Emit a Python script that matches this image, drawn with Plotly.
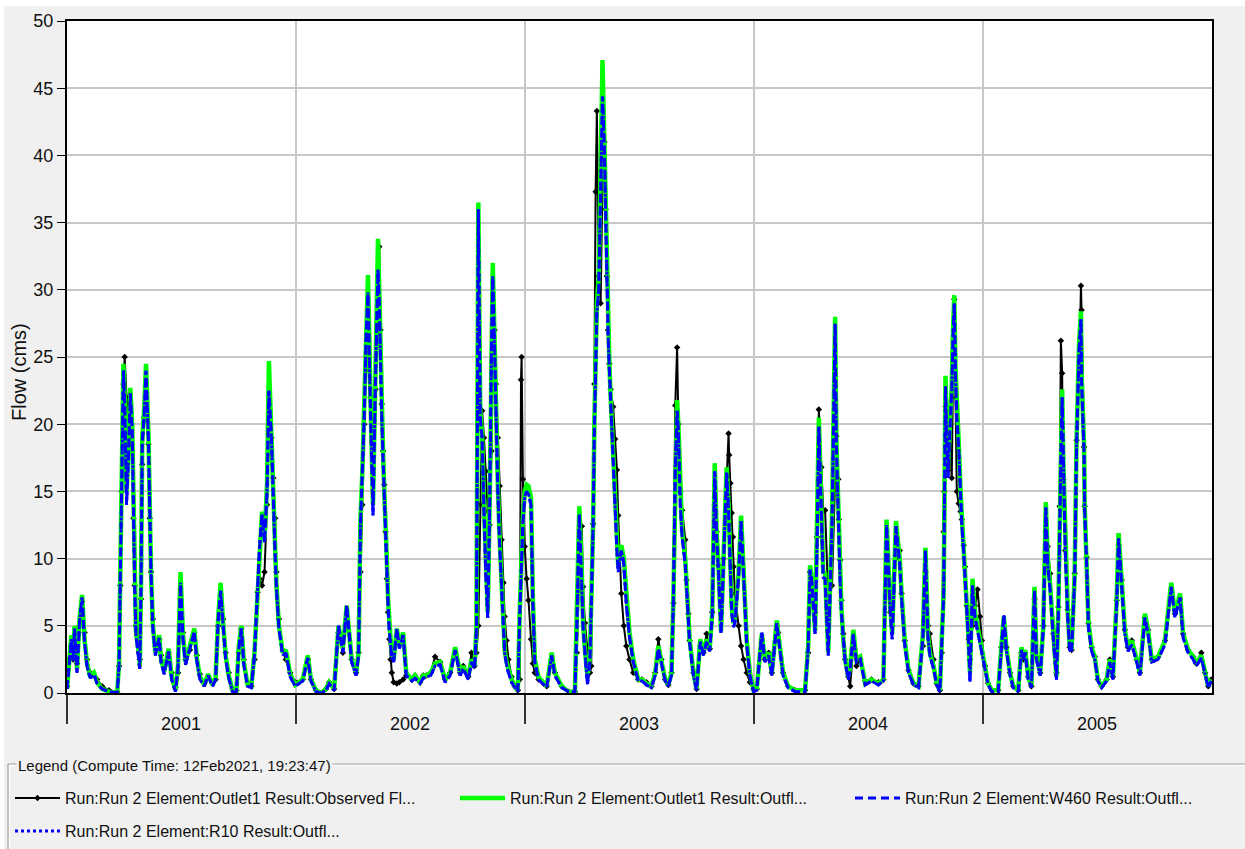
import pandas as pd
import plotly.graph_objects as go

# Daily outflow record, Run 2 (HEC-HMS), 01Jan2001 - 31Dec2005.
# Days are counted from 01Jan2001; flows in cms.
day_offsets = [
    # 2001
    0, 4, 7, 10, 12, 16, 20, 24, 28, 32, 37, 43, 48, 56, 67, 80, 83, 85, 87, 90,
    92, 95, 98, 101, 104, 106, 108, 110, 115, 116, 118, 120, 123, 126, 130, 132, 134, 137, 141, 147,
    150, 155, 162, 167, 173, 177, 181, 185, 189, 196, 203, 207, 212, 219, 225, 232, 237, 241, 245, 249,
    253, 258, 264, 270, 274, 278, 282, 288, 294, 299, 304, 307, 311, 315, 319, 322, 326, 329, 332, 334,
    338, 344, 349, 356, 364,
    # 2002
    376, 384, 389, 397, 405, 413, 418, 426, 433, 440, 446, 454, 461, 465, 468, 471, 474, 477, 480, 484,
    488, 492, 496, 498, 500, 502, 504, 506, 508, 510, 512, 514, 516, 518, 521, 526, 530, 536, 541, 550,
    555, 563, 568, 573, 580, 587, 595, 603, 611, 619, 627, 632, 640, 645, 650, 653, 656, 659, 662, 665,
    668, 671, 674, 677, 679, 682, 684, 687, 690, 693, 696, 698, 701, 704, 709, 714, 719, 722, 724, 725,
    727,
    # 2003
    730, 733, 736, 740, 743, 746, 752, 760, 765, 773, 778, 789, 800, 810, 813, 817, 821, 823, 826, 830,
    834, 836, 839, 841, 843, 845, 848, 851, 854, 857, 859, 861, 863, 865, 867, 871, 874, 877, 879, 882,
    884, 888, 892, 897, 903, 906, 911, 917, 924, 932, 938, 943, 948, 954, 959, 964, 967, 970, 973, 975,
    978, 981, 986, 988, 991, 993, 999, 1004, 1010, 1015, 1020, 1025, 1029, 1033, 1036, 1039, 1043, 1047, 1052, 1055,
    1056, 1058, 1060, 1062, 1063, 1065, 1071, 1075, 1079, 1084, 1089,
    # 2004
    1095, 1100, 1108, 1113, 1119, 1124, 1132, 1134, 1142, 1150, 1161, 1177, 1182, 1185, 1188, 1193, 1196, 1199, 1203, 1206,
    1209, 1214, 1220, 1225, 1227, 1230, 1231, 1233, 1235, 1238, 1241, 1246, 1249, 1254, 1259, 1265, 1273, 1283, 1294, 1302,
    1307, 1313, 1316, 1322, 1328, 1331, 1336, 1342, 1350, 1358, 1365, 1369, 1373, 1376, 1382, 1387, 1392, 1395, 1398, 1399,
    1401, 1403, 1405, 1408, 1411, 1413, 1415, 1417, 1419, 1422, 1425, 1427, 1430, 1432, 1435, 1438, 1440, 1444, 1448, 1452,
    1456, 1459,
    # 2005
    1464, 1469, 1475, 1485, 1490, 1494, 1498, 1504, 1509, 1517, 1522, 1525, 1528, 1533, 1538, 1543, 1546, 1552, 1557, 1561,
    1564, 1568, 1573, 1578, 1581, 1583, 1585, 1587, 1589, 1592, 1596, 1599, 1602, 1607, 1610, 1614, 1617, 1618, 1622, 1623,
    1626, 1629, 1634, 1639, 1644, 1650, 1658, 1663, 1668, 1674, 1677, 1682, 1687, 1692, 1698, 1706, 1711, 1719, 1724, 1730,
    1740, 1751, 1761, 1767, 1775, 1780, 1788, 1796, 1801, 1809, 1815, 1820, 1825,
]

observed_flow = [
    # 2001
    0.5, 2.5, 3.5, 2.5, 4.0, 2.2, 5.0, 6.8, 4.5, 2.5, 1.5, 1.3, 1.0, 0.5, 0.2, 0.1, 2.0, 8.0, 15.0, 23.0,
    25.0, 22.0, 20.5, 21.5, 18.0, 13.0, 8.0, 5.0, 3.0, 2.5, 7.0, 17.0, 20.5, 22.0, 18.5, 13.0, 9.0, 5.5, 3.5, 4.0,
    2.8, 2.0, 3.0, 1.5, 0.4, 1.5, 7.0, 4.5, 2.5, 3.2, 4.5, 2.8, 1.4, 0.7, 1.2, 0.8, 1.0, 5.0, 7.3, 5.5,
    3.0, 1.5, 0.3, 0.2, 3.0, 4.8, 2.5, 0.8, 0.5, 2.5, 7.5, 8.5, 8.0, 9.0, 14.0, 19.8, 19.0, 16.0, 13.0, 9.0,
    5.5, 3.2, 2.5, 1.5, 0.8,
    # 2002
    1.0, 2.5, 1.0, 0.2, 0.0, 0.3, 0.8, 0.3, 4.5, 3.0, 5.5, 2.5, 1.5, 3.0, 9.0, 14.0, 20.0, 24.0, 25.0, 22.0,
    18.5, 22.6, 29.0, 33.2, 27.0, 21.5, 18.0, 15.5, 12.0, 8.5, 6.0, 4.0, 2.5, 1.5, 0.8, 0.7, 0.8, 1.0, 1.3, 1.0,
    1.3, 0.8, 1.3, 1.3, 1.5, 2.7, 2.3, 1.0, 1.5, 3.0, 1.5, 2.0, 1.2, 3.0, 2.0, 3.0, 5.0, 14.0, 21.0, 19.0,
    16.5, 13.5, 12.5, 18.0, 24.0, 27.0, 23.0, 19.0, 15.4, 11.4, 8.2, 5.7, 3.9, 2.5, 1.2, 0.5, 0.2, 1.0, 23.3, 25.0,
    15.9,
    # 2003
    10.9, 8.5, 6.9, 4.0, 2.2, 1.5, 1.0, 0.7, 0.5, 2.5, 1.5, 0.5, 0.1, 0.1, 3.0, 9.0, 12.4, 7.9, 5.2, 3.2,
    1.5, 2.0, 12.6, 23.0, 37.3, 43.3, 31.0, 29.0, 38.0, 41.0, 36.0, 31.0, 27.0, 24.5, 22.6, 21.3, 18.9, 16.6, 13.2, 10.2,
    7.4, 5.0, 3.5, 2.5, 1.5, 1.5, 1.0, 1.0, 0.8, 0.5, 1.5, 4.0, 2.5, 1.0, 0.6, 1.5, 6.7, 21.4, 25.7, 20.0,
    15.0, 13.6, 11.4, 8.4, 5.9, 3.9, 1.5, 0.3, 3.5, 3.0, 4.4, 3.3, 6.0, 14.0, 12.0, 9.5, 6.0, 10.0, 16.0, 19.3,
    17.7, 15.6, 13.4, 11.6, 9.4, 7.4, 5.0, 3.5, 2.5, 1.5, 0.8,
    # 2004
    0.3, 0.3, 4.0, 2.5, 3.0, 1.5, 5.0, 4.5, 1.5, 0.5, 0.2, 0.2, 3.0, 9.0, 8.0, 6.0, 11.6, 21.1, 16.8, 13.6,
    13.6, 7.0, 8.0, 17.0, 19.1, 15.9, 12.9, 9.9, 6.9, 4.4, 2.5, 1.2, 0.5, 3.5, 2.0, 2.5, 0.9, 1.0, 0.8, 1.0,
    10.0, 6.0, 5.0, 10.0, 10.6, 7.4, 3.9, 1.7, 0.7, 0.5, 3.5, 9.0, 5.0, 4.4, 2.5, 0.7, 0.2, 3.0, 12.0, 15.0,
    21.3, 18.3, 16.6, 18.4, 16.0, 24.0, 29.3, 22.0, 15.0, 14.1, 13.5, 12.9, 11.0, 9.4, 6.5, 4.0, 2.5, 5.0, 6.5, 7.7,
    5.7, 3.9,
    # 2005
    2.0, 0.7, 0.2, 0.2, 3.4, 4.5, 3.4, 1.5, 0.5, 0.2, 3.0, 2.5, 3.0, 1.2, 0.5, 7.0, 2.7, 1.5, 5.0, 12.0,
    10.9, 8.9, 4.4, 1.5, 6.4, 13.9, 26.2, 23.8, 15.9, 10.6, 6.2, 3.4, 3.2, 8.9, 18.8, 23.6, 30.3, 28.5, 18.3, 13.9,
    10.1, 5.2, 3.4, 2.7, 1.0, 0.5, 1.0, 2.5, 1.2, 6.9, 11.0, 8.4, 4.7, 3.4, 3.9, 2.5, 1.5, 5.6, 4.7, 2.5,
    2.7, 3.9, 7.5, 5.9, 7.0, 4.4, 3.2, 2.7, 2.2, 3.0, 1.5, 0.5, 1.0,
]

outlet1_flow = [
    # 2001
    0.3, 2.8, 4.3, 2.6, 5.0, 1.8, 5.5, 7.3, 4.0, 2.2, 1.2, 1.5, 0.8, 0.3, 0.1, 0.0, 2.2, 9.0, 15.5, 24.5,
    22.0, 15.0, 18.0, 22.7, 20.0, 13.0, 8.0, 4.5, 2.8, 2.0, 8.0, 19.0, 21.0, 24.5, 19.0, 13.0, 9.0, 5.0, 3.0, 4.3,
    2.5, 1.6, 3.3, 1.2, 0.2, 2.0, 9.0, 4.3, 2.3, 3.5, 4.8, 2.6, 1.2, 0.6, 1.4, 0.6, 1.1, 5.5, 8.2, 5.2,
    2.8, 1.3, 0.2, 0.0, 3.5, 5.0, 2.3, 0.6, 0.5, 3.0, 8.0, 11.0, 13.5, 11.5, 15.5, 24.7, 19.5, 14.0, 10.5, 8.0,
    5.0, 3.0, 3.2, 1.4, 0.6,
    # 2002
    1.0, 2.8, 1.0, 0.2, 0.0, 0.3, 0.8, 0.3, 5.0, 3.3, 6.5, 2.5, 1.5, 3.0, 12.9, 16.5, 21.0, 27.0, 31.1, 22.0,
    14.0, 24.0, 33.8, 30.0, 25.0, 21.0, 18.0, 15.0, 13.0, 10.0, 7.0, 5.0, 4.0, 3.0, 2.5, 4.8, 3.5, 4.5, 1.5, 1.0,
    1.3, 0.8, 1.3, 1.3, 1.5, 2.2, 2.3, 1.0, 1.5, 3.4, 1.5, 2.0, 1.2, 2.5, 2.0, 5.0, 36.5, 21.0, 19.3, 14.0,
    9.0, 6.0, 14.0, 27.0, 32.0, 26.0, 21.3, 15.6, 11.4, 7.9, 4.9, 3.2, 2.3, 1.7, 1.0, 0.5, 0.2, 6.0, 9.0, 10.5,
    13.0,
    # 2003
    15.0, 15.5, 15.4, 14.5, 7.0, 2.5, 1.2, 0.7, 0.5, 3.0, 1.5, 0.5, 0.1, 0.1, 5.0, 13.9, 8.9, 5.2, 3.2, 1.2,
    2.7, 6.0, 12.6, 20.0, 26.0, 29.0, 31.0, 38.0, 47.1, 41.0, 36.0, 31.0, 27.0, 24.5, 22.0, 18.0, 14.5, 11.0, 9.5, 10.5,
    11.0, 10.0, 7.0, 4.5, 2.5, 2.0, 1.0, 1.0, 0.7, 0.5, 1.5, 3.5, 2.5, 1.0, 0.6, 1.5, 7.0, 17.0, 21.8, 20.0,
    14.4, 12.0, 10.0, 8.0, 6.0, 4.0, 1.5, 0.3, 4.0, 3.0, 4.0, 3.3, 6.0, 17.1, 12.0, 9.5, 4.6, 10.0, 16.8, 14.0,
    12.0, 9.0, 6.4, 5.5, 5.2, 5.5, 8.9, 13.2, 8.9, 3.9, 1.5,
    # 2004
    0.2, 0.3, 4.4, 2.5, 3.0, 1.5, 5.4, 4.5, 1.5, 0.5, 0.2, 0.2, 3.5, 9.5, 8.5, 4.6, 11.0, 20.5, 14.0, 9.0,
    8.9, 3.0, 13.0, 28.0, 18.8, 13.5, 11.4, 8.5, 6.4, 4.0, 2.5, 1.2, 2.0, 4.7, 2.5, 2.7, 0.7, 1.0, 0.7, 1.0,
    12.9, 6.4, 4.4, 12.8, 10.0, 7.4, 3.9, 1.7, 0.7, 0.5, 4.4, 10.8, 4.4, 3.0, 2.0, 0.7, 0.2, 3.9, 7.4, 12.4,
    23.6, 19.0, 16.6, 20.0, 23.0, 27.0, 29.6, 24.0, 21.0, 18.8, 15.0, 12.9, 10.9, 9.4, 6.4, 3.9, 1.5, 8.5, 6.0, 5.0,
    4.0, 3.0,
    # 2005
    2.0, 0.7, 0.2, 0.2, 3.4, 5.7, 3.4, 1.5, 0.5, 0.2, 3.4, 2.7, 3.2, 1.2, 0.5, 7.9, 2.7, 1.5, 5.0, 14.2,
    10.0, 8.0, 4.4, 1.2, 6.4, 13.9, 18.0, 22.6, 17.0, 11.0, 6.0, 3.5, 3.2, 8.9, 18.8, 26.0, 28.4, 23.8, 18.3, 13.9,
    10.1, 5.2, 3.4, 2.7, 1.0, 0.5, 1.0, 2.5, 1.2, 6.9, 11.9, 8.4, 4.7, 3.4, 3.9, 2.5, 1.5, 5.9, 4.7, 2.5,
    2.7, 3.9, 8.2, 5.9, 7.4, 4.4, 3.2, 2.7, 2.2, 2.8, 1.5, 0.5, 1.0,
]

w460_flow = [
    # 2001
    0.3, 2.8, 4.0, 2.4, 4.8, 1.5, 5.3, 7.1, 3.8, 2.0, 1.1, 1.4, 0.7, 0.3, 0.1, 0.0, 2.0, 8.6, 15.0, 24.0,
    21.5, 14.0, 17.5, 22.3, 19.5, 12.8, 7.8, 4.3, 2.5, 1.8, 7.8, 18.6, 20.6, 24.0, 18.6, 12.8, 8.8, 4.8, 2.8, 4.1,
    2.3, 1.4, 3.1, 1.0, 0.1, 1.9, 8.2, 4.0, 2.1, 3.3, 4.6, 2.4, 1.0, 0.5, 1.3, 0.5, 1.0, 5.3, 7.6, 5.0,
    2.6, 1.1, 0.1, 0.0, 3.3, 4.8, 2.1, 0.5, 0.4, 2.8, 7.8, 10.8, 13.3, 11.2, 15.0, 22.5, 19.0, 13.6, 10.2, 7.8,
    4.8, 2.8, 3.0, 1.2, 0.5,
    # 2002
    0.9, 2.6, 0.9, 0.1, 0.0, 0.2, 0.7, 0.2, 5.0, 3.0, 6.5, 2.3, 1.3, 2.8, 12.5, 16.0, 20.5, 26.5, 29.8, 21.0,
    13.2, 23.5, 31.5, 29.0, 24.0, 20.5, 17.5, 14.5, 12.4, 9.6, 6.6, 4.6, 3.6, 2.6, 2.3, 4.8, 3.3, 4.3, 1.3, 0.9,
    1.1, 0.7, 1.1, 1.2, 1.3, 2.0, 2.1, 0.8, 1.3, 3.2, 1.3, 1.8, 1.0, 2.3, 1.8, 4.8, 36.0, 20.5, 19.0, 13.6,
    8.6, 5.6, 13.5, 26.0, 31.0, 25.5, 21.0, 15.2, 11.0, 7.5, 4.6, 3.0, 2.1, 1.5, 0.8, 0.4, 0.1, 5.8, 8.8, 10.2,
    12.6,
    # 2003
    14.6, 15.0, 14.8, 14.0, 6.6, 2.3, 1.0, 0.6, 0.4, 2.8, 1.3, 0.4, 0.1, 0.1, 4.8, 13.3, 8.6, 5.0, 3.0, 0.6,
    2.5, 5.8, 12.4, 19.5, 25.5, 28.3, 30.0, 37.0, 44.4, 40.5, 35.5, 30.5, 26.5, 24.0, 21.5, 17.5, 14.0, 10.6, 9.0, 10.0,
    10.6, 9.6, 6.6, 4.2, 2.3, 1.8, 0.9, 0.9, 0.6, 0.4, 1.3, 3.3, 2.3, 0.9, 0.5, 1.3, 6.8, 16.5, 21.0, 19.5,
    14.0, 11.6, 9.6, 7.6, 5.6, 3.7, 1.3, 0.2, 3.8, 2.8, 3.8, 3.1, 5.8, 16.5, 11.6, 9.0, 4.4, 9.6, 16.4, 13.6,
    11.6, 8.6, 6.0, 5.2, 4.9, 5.2, 8.6, 12.8, 8.6, 3.6, 1.3,
    # 2004
    0.1, 0.2, 4.5, 2.3, 2.8, 1.3, 5.2, 4.3, 1.3, 0.4, 0.1, 0.1, 3.3, 9.2, 8.2, 4.4, 10.6, 19.8, 13.6, 8.6,
    8.5, 2.8, 12.6, 27.5, 18.4, 13.0, 11.0, 8.2, 6.0, 3.7, 2.3, 1.0, 1.8, 4.4, 2.3, 2.5, 0.6, 0.9, 0.6, 0.9,
    12.5, 6.0, 4.0, 12.4, 9.6, 7.0, 3.6, 1.5, 0.6, 0.4, 4.2, 10.6, 4.2, 2.8, 1.8, 0.6, 0.1, 3.7, 7.2, 12.0,
    22.8, 18.5, 16.0, 19.5, 22.5, 26.5, 29.0, 23.5, 20.5, 18.3, 14.5, 12.5, 10.5, 9.0, 6.0, 3.6, 0.8, 8.0, 5.6, 4.6,
    3.7, 2.8,
    # 2005
    1.8, 0.6, 0.1, 0.1, 3.2, 5.8, 3.2, 1.3, 0.4, 0.1, 3.2, 2.5, 3.0, 1.0, 0.4, 7.6, 2.5, 1.3, 4.8, 13.8,
    9.6, 7.6, 4.0, 1.0, 6.0, 13.5, 17.5, 22.0, 16.5, 10.6, 5.6, 3.2, 3.0, 8.5, 18.3, 25.5, 27.8, 23.3, 17.8, 13.5,
    9.7, 4.9, 3.1, 2.5, 0.9, 0.4, 0.9, 2.3, 1.0, 6.6, 11.5, 8.0, 4.4, 3.1, 3.6, 2.3, 1.3, 5.6, 4.4, 2.3,
    2.5, 3.6, 7.9, 5.6, 7.1, 4.1, 3.0, 2.5, 2.0, 2.6, 1.3, 0.4, 0.9,
]

r10_flow = [
    # 2001
    0.3, 2.8, 4.0, 2.4, 4.8, 1.5, 5.3, 7.1, 3.8, 2.0, 1.1, 1.4, 0.7, 0.3, 0.1, 0.0, 2.0, 8.6, 15.0, 24.0,
    21.5, 14.0, 17.5, 22.3, 19.5, 12.8, 7.8, 4.3, 2.5, 1.8, 7.8, 18.6, 20.6, 24.0, 18.6, 12.8, 8.8, 4.8, 2.8, 4.1,
    2.3, 1.4, 3.1, 1.0, 0.1, 1.9, 8.2, 4.0, 2.1, 3.3, 4.6, 2.4, 1.0, 0.5, 1.3, 0.5, 1.0, 5.3, 7.6, 5.0,
    2.6, 1.1, 0.1, 0.0, 3.3, 4.8, 2.1, 0.5, 0.4, 2.8, 7.8, 10.8, 13.3, 11.2, 15.0, 22.5, 19.0, 13.6, 10.2, 7.8,
    4.8, 2.8, 3.0, 1.2, 0.5,
    # 2002
    0.9, 2.6, 0.9, 0.1, 0.0, 0.2, 0.7, 0.2, 5.0, 3.0, 6.5, 2.3, 1.3, 2.8, 12.5, 16.0, 20.5, 26.5, 29.8, 21.0,
    13.2, 23.5, 31.5, 29.0, 24.0, 20.5, 17.5, 14.5, 12.4, 9.6, 6.6, 4.6, 3.6, 2.6, 2.3, 4.8, 3.3, 4.3, 1.3, 0.9,
    1.1, 0.7, 1.1, 1.2, 1.3, 2.0, 2.1, 0.8, 1.3, 3.2, 1.3, 1.8, 1.0, 2.3, 1.8, 4.8, 36.0, 20.5, 19.0, 13.6,
    8.6, 5.6, 13.5, 26.0, 31.0, 25.5, 21.0, 15.2, 11.0, 7.5, 4.6, 3.0, 2.1, 1.5, 0.8, 0.4, 0.1, 5.8, 8.8, 10.2,
    12.6,
    # 2003
    14.6, 15.0, 14.8, 14.0, 6.6, 2.3, 1.0, 0.6, 0.4, 2.8, 1.3, 0.4, 0.1, 0.1, 4.8, 13.3, 8.6, 5.0, 3.0, 0.6,
    2.5, 5.8, 12.4, 19.5, 25.5, 28.3, 30.0, 37.0, 44.4, 40.5, 35.5, 30.5, 26.5, 24.0, 21.5, 17.5, 14.0, 10.6, 9.0, 10.0,
    10.6, 9.6, 6.6, 4.2, 2.3, 1.8, 0.9, 0.9, 0.6, 0.4, 1.3, 3.3, 2.3, 0.9, 0.5, 1.3, 6.8, 16.5, 21.0, 19.5,
    14.0, 11.6, 9.6, 7.6, 5.6, 3.7, 1.3, 0.2, 3.8, 2.8, 3.8, 3.1, 5.8, 16.5, 11.6, 9.0, 4.4, 9.6, 16.4, 13.6,
    11.6, 8.6, 6.0, 5.2, 4.9, 5.2, 8.6, 12.8, 8.6, 3.6, 1.3,
    # 2004
    0.1, 0.2, 4.5, 2.3, 2.8, 1.3, 5.2, 4.3, 1.3, 0.4, 0.1, 0.1, 3.3, 9.2, 8.2, 4.4, 10.6, 19.8, 13.6, 8.6,
    8.5, 2.8, 12.6, 27.5, 18.4, 13.0, 11.0, 8.2, 6.0, 3.7, 2.3, 1.0, 1.8, 4.4, 2.3, 2.5, 0.6, 0.9, 0.6, 0.9,
    12.5, 6.0, 4.0, 12.4, 9.6, 7.0, 3.6, 1.5, 0.6, 0.4, 4.2, 10.6, 4.2, 2.8, 1.8, 0.6, 0.1, 3.7, 7.2, 12.0,
    22.8, 18.5, 16.0, 19.5, 22.5, 26.5, 29.0, 23.5, 20.5, 18.3, 14.5, 12.5, 10.5, 9.0, 6.0, 3.6, 0.8, 8.0, 5.6, 4.6,
    3.7, 2.8,
    # 2005
    1.8, 0.6, 0.1, 0.1, 3.2, 5.8, 3.2, 1.3, 0.4, 0.1, 3.2, 2.5, 3.0, 1.0, 0.4, 7.6, 2.5, 1.3, 4.8, 13.8,
    9.6, 7.6, 4.0, 1.0, 6.0, 13.5, 17.5, 22.0, 16.5, 10.6, 5.6, 3.2, 3.0, 8.5, 18.3, 25.5, 27.8, 23.3, 17.8, 13.5,
    9.7, 4.9, 3.1, 2.5, 0.9, 0.4, 0.9, 2.3, 1.0, 6.6, 11.5, 8.0, 4.4, 3.1, 3.6, 2.3, 1.3, 5.6, 4.4, 2.3,
    2.5, 3.6, 7.9, 5.6, 7.1, 4.1, 3.0, 2.5, 2.0, 2.6, 1.3, 0.4, 0.9,
]

year_labels = ["2001", "2002", "2003", "2004", "2005"]
year_starts = ["2001-01-01", "2002-01-01", "2003-01-01", "2004-01-01", "2005-01-01"]
year_middles = ["2001-07-02", "2002-07-02", "2003-07-02", "2004-07-02", "2005-07-02"]

series_names = [
    "Run:Run 2 Element:Outlet1 Result:Observed Fl...",
    "Run:Run 2 Element:Outlet1 Result:Outfl...",
    "Run:Run 2 Element:W460 Result:Outfl...",
    "Run:Run 2 Element:R10 Result:Outfl...",
]
legend_title = "Legend (Compute Time: 12Feb2021, 19:23:47)"

n = len(day_offsets)
for series in (observed_flow, outlet1_flow, w460_flow, r10_flow):
    assert len(series) == n, (len(series), n)

dates = pd.Timestamp("2001-01-01") + pd.to_timedelta(day_offsets, unit="D")

FONT = "Liberation Sans, Arial, sans-serif"
W, H = 1245, 849
PLOT_LEFT, PLOT_RIGHT, PLOT_TOP, PLOT_BOTTOM = 67, 1212, 21, 693
ML, MR, MT, MB = PLOT_LEFT, W - PLOT_RIGHT, PLOT_TOP, H - PLOT_BOTTOM
PW, PH = PLOT_RIGHT - PLOT_LEFT, PLOT_BOTTOM - PLOT_TOP


def px_x(x):
    return (x - PLOT_LEFT) / PW


def px_y(y):
    return (PLOT_BOTTOM - y) / PH


fig = go.Figure()

fig.add_trace(go.Scatter(
    x=dates, y=observed_flow, name=series_names[0], mode="lines+markers",
    line=dict(color="#000000", width=2),
    marker=dict(symbol="diamond", size=5, color="#000000"),
    legend="legend",
))
fig.add_trace(go.Scatter(
    x=dates, y=outlet1_flow, name=series_names[1], mode="lines",
    line=dict(color="#00ff00", width=4.5),
    legend="legend2",
))
fig.add_trace(go.Scatter(
    x=dates, y=w460_flow, name=series_names[2], mode="lines",
    line=dict(color="#0000ff", width=3, dash="8px,5px"),
    legend="legend3",
))
fig.add_trace(go.Scatter(
    x=dates, y=r10_flow, name=series_names[3], mode="lines",
    line=dict(color="#0000ff", width=3, dash="3px,3px"),
    legend="legend4",
))

legend_style = dict(
    orientation="h", xanchor="left", yanchor="middle",
    bgcolor="rgba(0,0,0,0)", borderwidth=0, itemwidth=45,
    font=dict(family=FONT, size=16, color="#111111"),
)
row1, row2 = px_y(798), px_y(831)

annotations = [
    dict(x=m, y=px_y(724), xref="x", yref="paper", text=lab, showarrow=False,
         xanchor="center", yanchor="middle", font=dict(family=FONT, size=18, color="#111111"))
    for m, lab in zip(year_middles, year_labels)
]
annotations.append(dict(
    x=px_x(19), y=px_y(372), xref="paper", yref="paper", text="Flow (cms)", textangle=-90,
    showarrow=False, xanchor="center", yanchor="middle",
    font=dict(family=FONT, size=20, color="#111111"),
))
annotations.append(dict(
    x=px_x(16), y=px_y(765), xref="paper", yref="paper", text=legend_title,
    showarrow=False, xanchor="left", yanchor="middle", bgcolor="#f0f0f0", borderpad=1,
    font=dict(family=FONT, size=15, color="#111111"),
))

shapes = [
    # light edge along the top and left of the window
    dict(type="rect", xref="paper", yref="paper", x0=px_x(0), x1=px_x(W), y0=px_y(0), y1=px_y(6),
         fillcolor="#ffffff", line=dict(width=0), layer="below"),
    dict(type="rect", xref="paper", yref="paper", x0=px_x(0), x1=px_x(4), y0=px_y(0), y1=px_y(H),
         fillcolor="#ffffff", line=dict(width=0), layer="below"),
    # etched group box around the legend
    dict(type="line", xref="paper", yref="paper", x0=px_x(8), x1=px_x(W), y0=px_y(764), y1=px_y(764),
         line=dict(color="#a0a0a0", width=1.2)),
    dict(type="line", xref="paper", yref="paper", x0=px_x(9), x1=px_x(W), y0=px_y(765.5), y1=px_y(765.5),
         line=dict(color="#ffffff", width=1)),
    dict(type="line", xref="paper", yref="paper", x0=px_x(8), x1=px_x(8), y0=px_y(764), y1=px_y(H),
         line=dict(color="#a0a0a0", width=1.2)),
    dict(type="line", xref="paper", yref="paper", x0=px_x(9.5), x1=px_x(9.5), y0=px_y(765.5), y1=px_y(H),
         line=dict(color="#ffffff", width=1)),
]

fig.update_layout(
    width=W, height=H, autosize=False,
    # legends sit below the plot; keep them from pushing the margins
    margin=dict(l=ML, r=MR, t=MT, b=MB, pad=0, autoexpand=False),
    paper_bgcolor="#f0f0f0", plot_bgcolor="#ffffff",
    font=dict(family=FONT, color="#111111"),
    showlegend=True,
    legend=dict(x=px_x(10), y=row1, **legend_style),
    legend2=dict(x=px_x(455), y=row1, **legend_style),
    legend3=dict(x=px_x(850), y=row1, **legend_style),
    legend4=dict(x=px_x(10), y=row2, **legend_style),
    annotations=annotations,
    shapes=shapes,
    xaxis=dict(
        type="date", range=["2001-01-01", "2006-01-01"],
        tickmode="array", tickvals=year_starts, showticklabels=False,
        ticks="outside", ticklen=29, tickwidth=1.5, tickcolor="#333333",
        showgrid=True, gridcolor="#c8c8c8", gridwidth=1.5,
        showline=True, linecolor="#000000", linewidth=2, mirror=True,
        zeroline=False,
    ),
    yaxis=dict(
        range=[0, 50], tickmode="linear", tick0=0, dtick=5,
        ticks="outside", ticklen=8, tickwidth=1, tickcolor="#000000",
        tickfont=dict(family=FONT, size=18, color="#111111"),
        showgrid=True, gridcolor="#c8c8c8", gridwidth=1.5,
        showline=True, linecolor="#000000", linewidth=2, mirror=True,
        zeroline=False,
    ),
)

fig.write_html("out.html", config={"displayModeBar": False})
